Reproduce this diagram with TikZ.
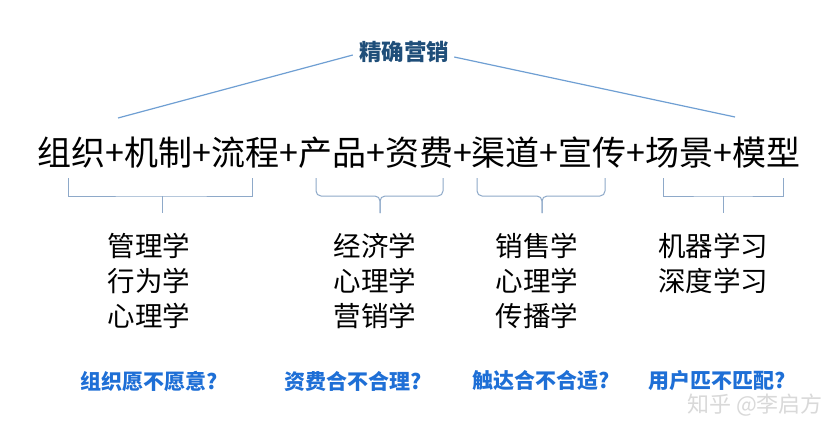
\documentclass[tikz,border=0pt]{standalone}
\usepackage{fontspec}
\newfontfamily\cjk{Noto Sans CJK SC}
\begin{document}
\begin{tikzpicture}[x=1pt,y=-1pt,
  title/.style={font=\cjk\bfseries\fontsize{22.5}{26}\selectfont, text=titleblue, inner sep=0pt},
  formula/.style={font=\cjk\fontsize{34}{38}\selectfont, inner sep=0pt},
  sub/.style={font=\cjk\fontsize{27.5}{35}\selectfont, align=center, inner sep=0pt, anchor=north},
  quest/.style={font=\cjk\bfseries\fontsize{21}{24}\selectfont, text=qblue, inner sep=0pt},
  toplink/.style={draw=linkblue, line width=1.2pt},
  brk/.style={draw=brkblue, line width=1pt},
  rbrk/.style={draw=brkblue, line width=1pt, rounded corners=5pt},
  wmark/.style={font=\cjk\fontsize{22}{24}\selectfont, text=black!15, inner sep=0pt}]
\definecolor{titleblue}{HTML}{1F4E79}
\definecolor{qblue}{HTML}{1E6FD6}
\definecolor{linkblue}{HTML}{6F9FD3}
\definecolor{brkblue}{HTML}{8EA9C9}
\useasboundingbox[fill=white] (0,0) rectangle (837,437);
% title
\node[title] (t) at (404,52) {精确营销};
\coordinate (tl) at (118,118);
\coordinate (tr) at (735,117);
\draw[toplink] (t.west) ++(-6,3) coordinate (tw) -- (tl);
\draw[toplink] (t.east) ++(5,5) coordinate (te) -- (tr);
% formula
\node[formula] (f) at (419,153) {组织+机制+流程+产品+资费+渠道+宣传+场景+模型};
% brackets
\coordinate (b1l) at (68,178); \coordinate (b1r) at (252,178);
\coordinate (b1m) at (162,213);
\draw[brk] (b1l) |- (b1m |- 0,196) -| (b1r);
\draw[brk] (b1m |- 0,196) -- (b1m);
\coordinate (b2l) at (316,178); \coordinate (b2r) at (443,178);
\coordinate (b2m) at (380,213);
\draw[rbrk] (b2l) -- (316,196) -- (380,196) -- (b2m);
\draw[rbrk] (b2r) -- (443,196) -- (380,196) -- (b2m);
\coordinate (b3l) at (477,178); \coordinate (b3r) at (605,178);
\coordinate (b3m) at (542,213);
\draw[rbrk] (b3l) -- (477,196) -- (542,196) -- (b3m);
\draw[rbrk] (b3r) -- (605,196) -- (542,196) -- (b3m);
\coordinate (b4l) at (663,178); \coordinate (b4r) at (783,178);
\coordinate (b4m) at (723,213);
\draw[brk] (b4l) |- (b4m |- 0,196) -| (b4r);
\draw[brk] (b4m |- 0,196) -- (b4m);
% sub disciplines
\node[sub] (s1) at (149,233) {管理学\\行为学\\心理学};
\node[sub] (s2) at (375,233) {经济学\\心理学\\营销学};
\node[sub] (s3) at (537,233) {销售学\\心理学\\传播学};
\node[sub] (s4) at (713,233) {机器学习\\深度学习};
% questions
\node[quest] (q1) at (149,381) {组织愿不愿意?};
\node[quest] (q2) at (353,381) {资费合不合理?};
\node[quest] (q3) at (541,381) {触达合不合适?};
\node[quest] (q4) at (717,381) {用户匹不匹配?};
% watermark
\node[wmark] (w) at (755,405) {知乎 @李启方};
\end{tikzpicture}
\end{document}
